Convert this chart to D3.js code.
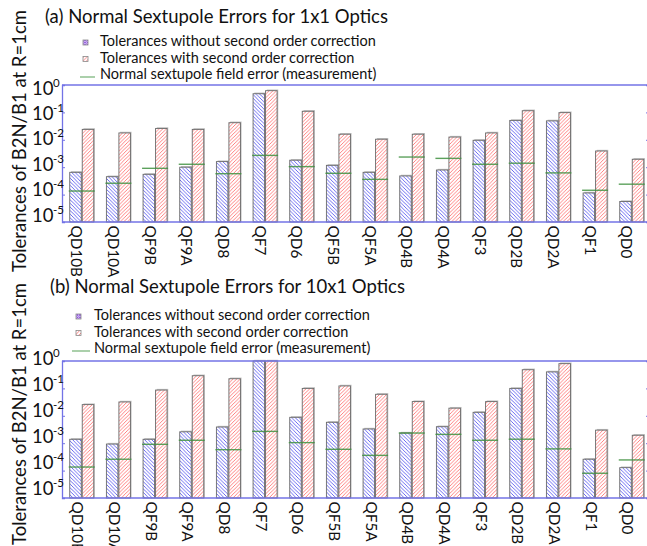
<!DOCTYPE html>
<html>
<head>
<meta charset="utf-8">
<script src="https://cdn.jsdelivr.net/npm/d3@7"></script>
<style>
  html, body { margin: 0; padding: 0; background: #fff; }
  svg { display: block; }
  text { font-family: Lato, "Open Sans", sans-serif; fill: #111; }
</style>
</head>
<body>
<svg id="chart" width="647" height="546"></svg>
<script>
// Magnet names along the beamline
const magnets = ["QD10B","QD10A","QF9B","QF9A","QD8","QF7","QD6","QF5B","QF5A","QD4B","QD4A","QF3","QD2B","QD2A","QF1","QD0"];

// (a) 1x1 optics
const tolNoCorr1x1   = [6.5e-4, 4.5e-4, 5.5e-4, 1.0e-3, 1.6e-3, 0.48, 1.8e-3, 1.17e-3, 6.5e-4, 4.8e-4, 7.9e-4, 9.6e-3, 0.051, 0.049, 1.15e-4, 5.6e-5];
const tolWithCorr1x1 = [0.024, 0.0178, 0.026, 0.024, 0.042, 0.62, 0.11, 0.016, 0.0105, 0.016, 0.0126, 0.0178, 0.115, 0.098, 3.9e-3, 1.95e-3];
const measured1x1    = [1.35e-4, 2.6e-4, 9.1e-4, 1.28e-3, 5.8e-4, 2.7e-3, 1.05e-3, 6.0e-4, 3.6e-4, 2.35e-3, 2.1e-3, 1.28e-3, 1.4e-3, 6.2e-4, 1.44e-4, 2.4e-4];

// (b) 10x1 optics
const tolNoCorr10x1   = [1.39e-3, 9.3e-4, 1.39e-3, 2.6e-3, 3.9e-3, 1.0, 8.8e-3, 5.8e-3, 3.3e-3, 2.35e-3, 4.0e-3, 0.0134, 0.10, 0.40, 2.6e-4, 1.28e-4];
const tolWithCorr10x1 = [0.0256, 0.032, 0.087, 0.29, 0.225, 1.0, 0.10, 0.123, 0.061, 0.033, 0.019, 0.033, 0.48, 0.80, 3.0e-3, 1.95e-3];
const measured10x1    = [1.35e-4, 2.6e-4, 9.1e-4, 1.28e-3, 5.8e-4, 2.7e-3, 1.05e-3, 6.0e-4, 3.6e-4, 2.35e-3, 2.1e-3, 1.28e-3, 1.4e-3, 6.2e-4, 8.0e-5, 2.45e-4];

// Decade ticks
const tickValues = [1, 1e-1, 1e-2, 1e-3, 1e-4, 1e-5];
const tickExponents = ["0", "-1", "-2", "-3", "-4", "-5"];

const legendLabels = [
  "Tolerances without second order correction",
  "Tolerances with second order correction",
  "Normal sextupole field error (measurement)"
];
const yTitle = "Tolerances of B2N/B1 at R=1cm";

const svg = d3.select("#chart");
const defs = svg.append("defs");

function hatch(id, color, dir, size) {
  const p = defs.append("pattern")
    .attr("id", id).attr("patternUnits", "userSpaceOnUse")
    .attr("width", size).attr("height", size);
  p.append("rect").attr("width", size).attr("height", size).attr("fill", "#fff");
  const s = size;
  const path = dir === "back"
    ? `M${-s/2},${s/2} L${s/2},${3*s/2} M0,0 L${s},${s} M${s/2},${-s/2} L${3*s/2},${s/2}`
    : `M${-s/2},${s/2} L${s/2},${-s/2} M0,${s} L${s},0 M${s/2},${3*s/2} L${3*s/2},${s/2}`;
  p.append("path").attr("d", path).attr("stroke", color).attr("stroke-width", 0.9);
}
hatch("hatchBlue", "#5a5af0", "back", 3.6);
hatch("hatchRed", "#ff7474", "fwd", 3.6);
// cross-hatch used by the legend swatch
(function () {
  const s = 2.5;
  const p = defs.append("pattern").attr("id", "crossPurple").attr("patternUnits", "userSpaceOnUse")
    .attr("width", s).attr("height", s);
  p.append("rect").attr("width", s).attr("height", s).attr("fill", "#e8d8ff");
  p.append("path").attr("d", `M0,0 L${s},${s} M0,${s} L${s},0`).attr("stroke", "#8a4fd8").attr("stroke-width", 0.8);
})();

const axisColor = "#7373e6";
const greenColor = "#3f913f";

const panels = [
  {
    title: "(a) Normal Sextupole Errors for 1x1 Optics",
    titleX: 45, titleY: 23,
    legendX: 83, legendTextX: 100, legendY: 46, lineX0: 80, lineX1: 95,
    top: 85, bottom: 222, labelTop: 88, labelBottom: 215, labelShift: -4.5,
    yTitleCenter: 141,
    noCorr: tolNoCorr1x1, withCorr: tolWithCorr1x1, measured: measured1x1
  },
  {
    title: "(b) Normal Sextupole Errors for 10x1 Optics",
    titleX: 50, titleY: 293,
    legendX: 76, legendTextX: 94, legendY: 320, lineX0: 72, lineX1: 90,
    top: 361, bottom: 498, labelTop: 358, labelBottom: 488, labelShift: -3.5,
    yTitleCenter: 414,
    noCorr: tolNoCorr10x1, withCorr: tolWithCorr10x1, measured: measured10x1
  }
];

const left = 62, right = 650;

panels.forEach(P => {
  const g = svg.append("g");

  const x = d3.scaleBand().domain(magnets).range([left + 1.5, right]).paddingInner(0.345).paddingOuter(0.17);
  const xs = d3.scaleBand().domain(["noCorr", "withCorr"]).range([0, x.bandwidth()]).paddingInner(0.08);
  const y = d3.scaleLog().domain([1e-5, 1]).range([P.bottom, P.top]).clamp(true);
  const yLabel = d3.scaleLog().domain([1e-5, 1]).range([P.labelBottom, P.labelTop]);

  // title
  g.append("text").attr("x", P.titleX).attr("y", P.titleY)
    .attr("font-size", 18.5).text(P.title);

  // legend
  const lg = g.append("g");
  lg.append("rect").attr("x", P.legendX).attr("y", P.legendY - 6).attr("width", 5).attr("height", 5)
    .attr("fill", "url(#crossPurple)").attr("stroke", "#888").attr("stroke-width", 0.8);
  lg.append("rect").attr("x", P.legendX).attr("y", P.legendY + 16.5 - 6).attr("width", 5).attr("height", 5)
    .attr("fill", "url(#hatchRed)").attr("stroke", "#888").attr("stroke-width", 0.8);
  lg.append("line").attr("x1", P.lineX0).attr("x2", P.lineX1)
    .attr("y1", P.legendY + 31).attr("y2", P.legendY + 31)
    .attr("stroke", "#8fc08f").attr("stroke-width", 1.5);
  legendLabels.forEach((t, i) => {
    lg.append("text").attr("x", P.legendTextX).attr("y", P.legendY + i * 16.5)
      .attr("font-size", 14.5).text(t);
  });

  // bars: shadow, then hatched body with outline
  const series = [
    { key: "noCorr", values: P.noCorr, fill: "url(#hatchBlue)" },
    { key: "withCorr", values: P.withCorr, fill: "url(#hatchRed)" }
  ];
  series.forEach(s => {
    const bars = g.append("g").selectAll("g").data(magnets).join("g");
    bars.append("rect")
      .attr("x", (d) => x(d) + xs(s.key) + 1.2)
      .attr("y", (d, i) => y(s.values[i]) - 1.2)
      .attr("width", xs.bandwidth())
      .attr("height", (d, i) => P.bottom - y(s.values[i]) + 1.2)
      .attr("fill", "#c4c4c4");
    bars.append("rect")
      .attr("x", (d) => x(d) + xs(s.key))
      .attr("y", (d, i) => y(s.values[i]))
      .attr("width", xs.bandwidth())
      .attr("height", (d, i) => P.bottom - y(s.values[i]))
      .attr("fill", s.fill)
      .attr("stroke", "#6a6a6a").attr("stroke-width", 0.9);
  });

  // measured field error markers
  g.append("g").selectAll("line").data(magnets).join("line")
    .attr("x1", d => x(d) + x.bandwidth() / 2 - 13)
    .attr("x2", d => x(d) + x.bandwidth() / 2 + 13)
    .attr("y1", (d, i) => y(P.measured[i]))
    .attr("y2", (d, i) => y(P.measured[i]))
    .attr("stroke", greenColor).attr("stroke-opacity", 0.85).attr("stroke-width", 1.4);

  // frame
  g.append("line").attr("x1", left).attr("x2", right).attr("y1", P.top).attr("y2", P.top)
    .attr("stroke", axisColor).attr("stroke-width", 1.3);
  g.append("line").attr("x1", left).attr("x2", right).attr("y1", P.bottom).attr("y2", P.bottom)
    .attr("stroke", axisColor).attr("stroke-width", 1.3);

  // left axis with inward decade ticks
  const yAxis = d3.axisRight(y).tickValues(tickValues).tickSize(3).tickFormat("");
  const ya = g.append("g").attr("transform", `translate(${left},0)`).call(yAxis);
  ya.select(".domain").attr("stroke", axisColor).attr("stroke-width", 1.3);
  ya.selectAll(".tick line").attr("stroke", axisColor);
  // right axis ticks
  const yAxisR = d3.axisLeft(y).tickValues(tickValues).tickSize(3).tickFormat("");
  const yr = g.append("g").attr("transform", `translate(${right - 1},0)`).call(yAxisR);
  yr.select(".domain").attr("stroke", axisColor).attr("stroke-width", 1.3);
  yr.selectAll(".tick line").attr("stroke", axisColor);

  // decade labels, 10 with superscript exponent
  tickValues.forEach((v, i) => {
    const ty = yLabel(v);
    g.append("text").attr("x", 32).attr("y", ty + 6.5).attr("font-size", 18.5).text("10");
    g.append("text").attr("x", 53).attr("y", ty - 1.5).attr("font-size", 11.5).text(tickExponents[i]);
  });

  // category labels, rotated
  const xa = d3.axisBottom(x).tickSize(0).tickPadding(0);
  const xg = g.append("g").attr("transform", `translate(0,${P.bottom})`).call(xa);
  xg.select(".domain").remove();
  xg.selectAll(".tick text")
    .attr("font-family", "Lato, \"Open Sans\", sans-serif")
    .attr("font-size", 15.3).attr("fill", "#111")
    .attr("text-anchor", "start").attr("dy", null).attr("y", 0)
    .attr("transform", `translate(${P.labelShift},3.5) rotate(90)`)
    .attr("dominant-baseline", "central");

  // y title
  g.append("text")
    .attr("transform", `translate(19,${P.yTitleCenter}) rotate(-90)`)
    .attr("text-anchor", "middle").attr("dominant-baseline", "central")
    .attr("font-size", 18.5).text(yTitle);
});
</script>
</body>
</html>
